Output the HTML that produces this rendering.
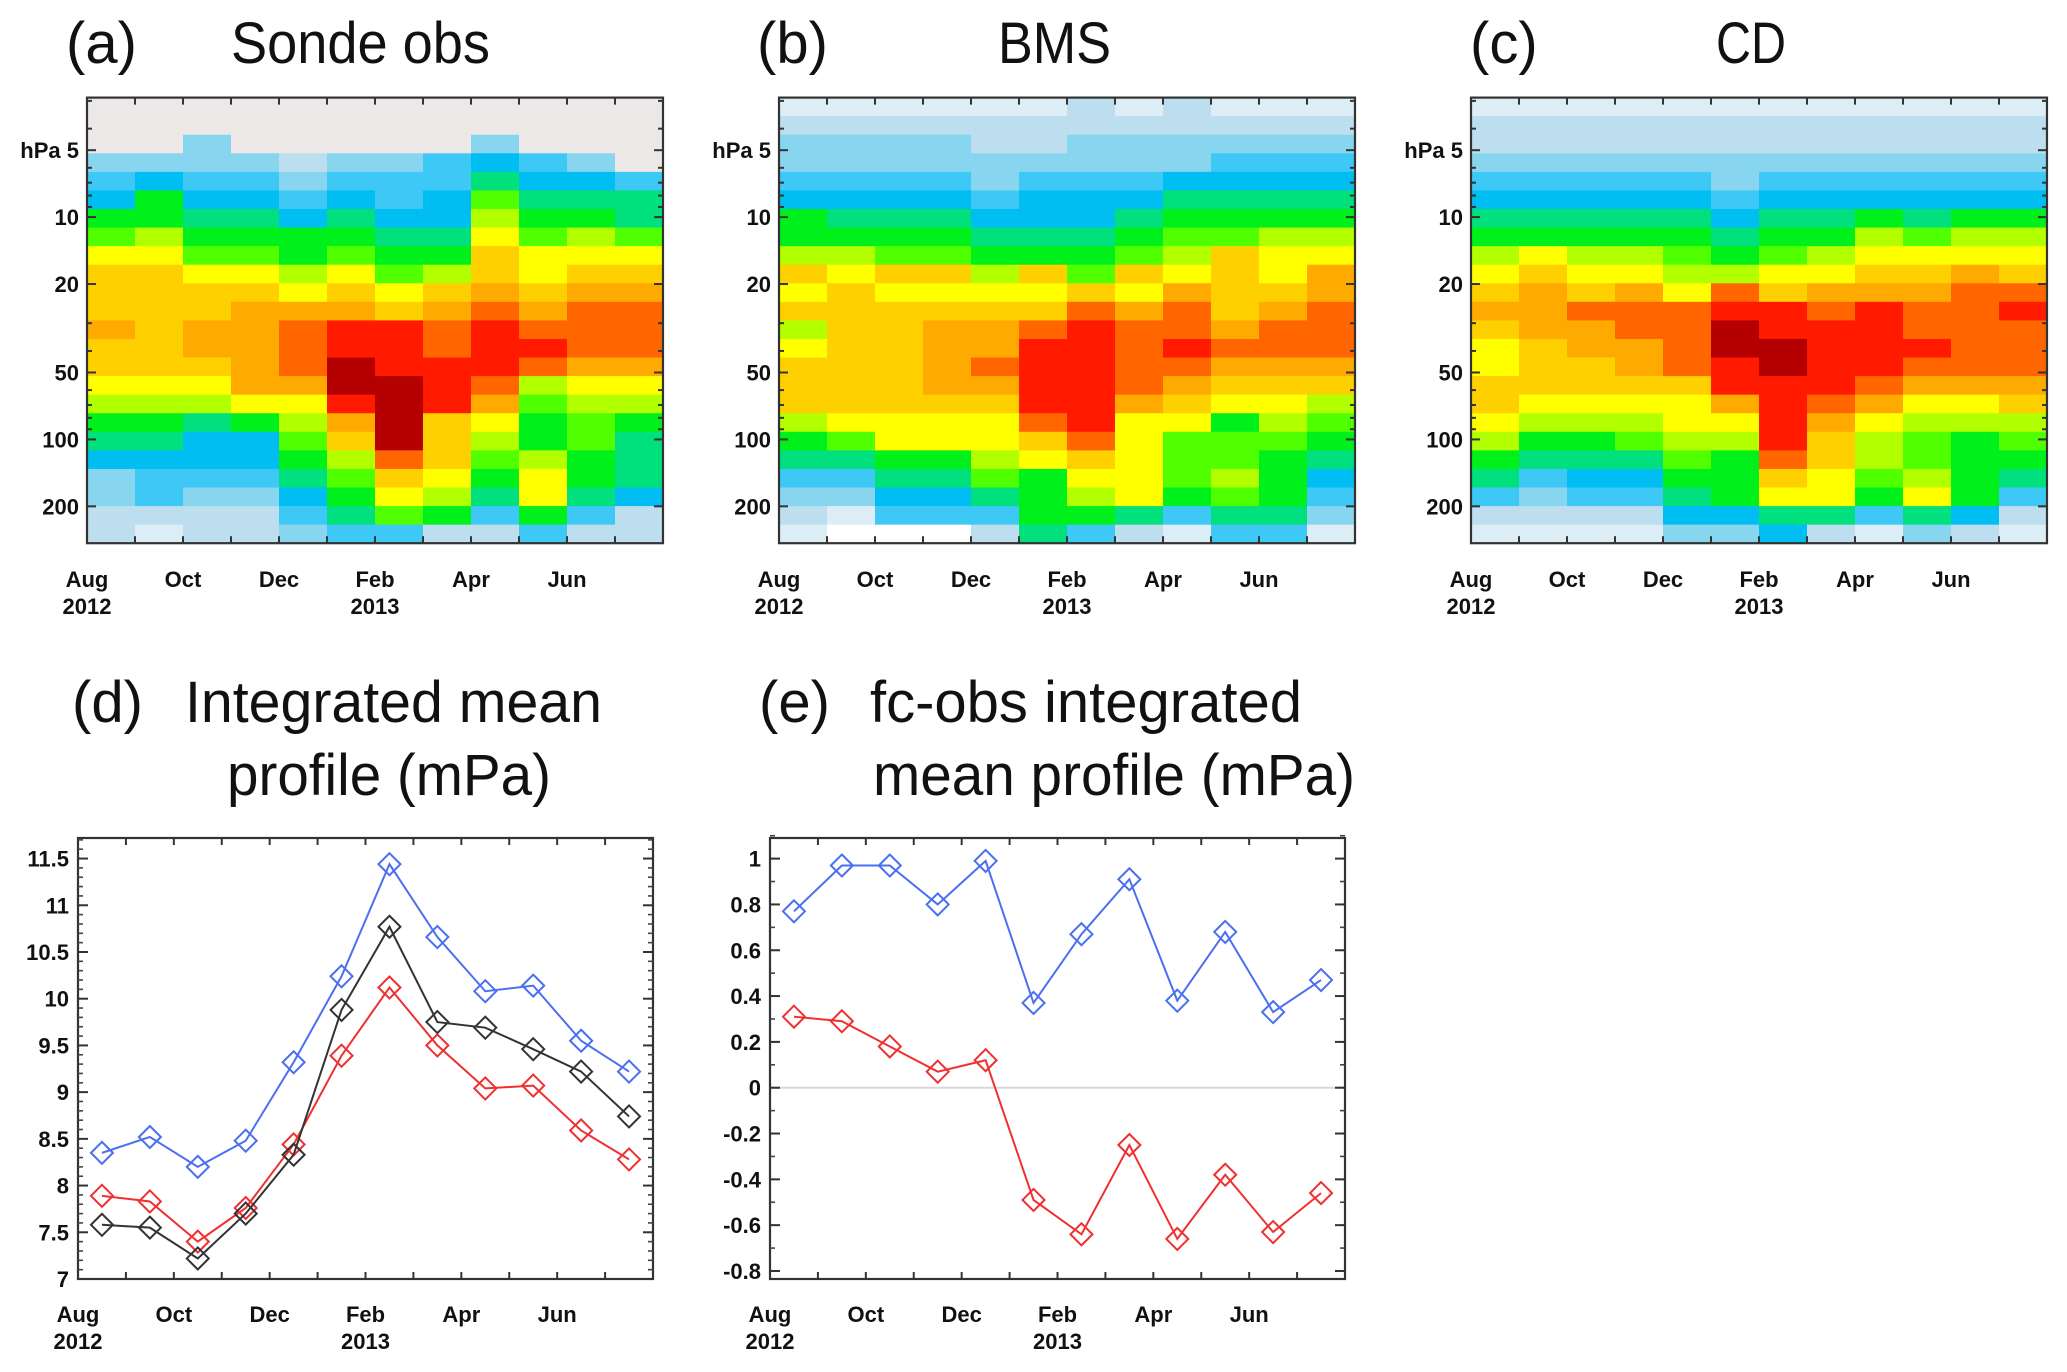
<!DOCTYPE html>
<html><head><meta charset="utf-8">
<style>
html,body{margin:0;padding:0;background:#fff;}
svg{display:block;}
text{font-family:"Liberation Sans",Arial,sans-serif;}
.tk{font-size:22px;font-weight:bold;fill:#111;}
.ttl{font-size:58px;fill:#111;}
</style></head>
<body>
<svg id="fig" width="2067" height="1372" viewBox="0 0 2067 1372" xmlns="http://www.w3.org/2000/svg">
<g id="titles">
<text class="ttl" x="66" y="63">(a)</text>
<text class="ttl" x="231" y="63" textLength="259" lengthAdjust="spacingAndGlyphs">Sonde obs</text>
<text class="ttl" x="757" y="63">(b)</text>
<text class="ttl" x="998" y="63" textLength="113" lengthAdjust="spacingAndGlyphs">BMS</text>
<text class="ttl" x="1470" y="63">(c)</text>
<text class="ttl" x="1716" y="63" textLength="70" lengthAdjust="spacingAndGlyphs">CD</text>
<text class="ttl" x="72" y="722">(d)</text>
<text class="ttl" x="185" y="722" textLength="417" lengthAdjust="spacingAndGlyphs">Integrated mean</text>
<text class="ttl" x="227" y="795" textLength="324" lengthAdjust="spacingAndGlyphs">profile (mPa)</text>
<text class="ttl" x="759" y="722">(e)</text>
<text class="ttl" x="870" y="722" textLength="432" lengthAdjust="spacingAndGlyphs">fc-obs integrated</text>
<text class="ttl" x="873" y="795" textLength="482" lengthAdjust="spacingAndGlyphs">mean profile (mPa)</text>
</g>
</svg>
<script>
// ---- data ----
const monthLabels = ["Aug","Oct","Dec","Feb","Apr","Jun"];
const monthTickIdx = [0,2,4,6,8,10];
const yearLabels = ["2012","2013"];
const yearTickIdx = [0,6];
const pressureTicks = [5,10,20,50,100,200];
const pressureTop = 2.9, pressureBottom = 293;
const nLevels = 24;
const colorScale = {"0":"#dcedf5","1":"#bcdeee","2":"#88d5ef","3":"#3ec8f5","4":"#00bdf2","5":"#00e07c","6":"#00f01c","7":"#50ff00","8":"#b2ff00","9":"#ffff00","a":"#ffd000","b":"#ffaa00","c":"#ff6600","d":"#ff1a00","e":"#b40000","g":"#ede8e8","w":"#ffffff"};
// each column: 24 colour-class levels, top to bottom
const sondeCols = [
"ggg234679aaabaa986542211",
"ggg246689aaaaaa986543310",
"gg22345679aabba985443211",
"ggg2345679abbbbb96443211",
"ggg12346689bcccb98765432",
"ggg2345679abddeedba87653",
"ggg23345679adddeeeeca973",
"ggg3344568abccdddaaa9861",
"gg245789aabcdddcb9876531",
"ggg3456799abcdc876689963",
"ggg245689abcccb987766531",
"gggg35579abcccb986555411"
];
const bmsCols = [
"012234668a9a89aaa8653210",
"0122345689aaaaaaa975320w",
"012234567a9aaaaaa996543w",
"012234567a9abbbba996543w",
"01122345689abbcba9987531",
"011234456a9acddddca96665",
"1122344567acddddddca9863",
"012234567a9bccccb9999951",
"1122456789bccdcba9777630",
"01234567aaaabcba96778753",
"0123456899abccba98766653",
"012345689bbcccba87654320"
];
const cdCols = [
"0112345689aba99aa9865310",
"011234569abbbaaa98653210",
"0112345689acbbaa98654310",
"0112345689bccbba98754310",
"01123456789cccca99876542",
"0112234568cdeeddb9866642",
"0112345679addeeddddca954",
"0112345689bcddddcbaa9951",
"011234689abddddcb9887630",
"011234579abccdcb98778952",
"011234689bcccccb98666641",
"011234689acdcccba8765310"
];
const lineMonths = [0,1,2,3,4,5,6,7,8,9,10,11];
const dBlue  = [8.35,8.52,8.20,8.48,9.32,10.24,11.44,10.66,10.08,10.14,9.55,9.22];
const dBlack = [7.58,7.55,7.22,7.70,8.33,9.88,10.77,9.75,9.69,9.46,9.22,8.74];
const dRed   = [7.89,7.83,7.40,7.76,8.44,9.39,10.12,9.50,9.04,9.07,8.59,8.28];
const dTicks = ["7","7.5","8","8.5","9","9.5","10","10.5","11","11.5"];
const eBlue = [0.77,0.97,0.97,0.80,0.99,0.37,0.67,0.91,0.38,0.68,0.33,0.47];
const eRed  = [0.31,0.29,0.18,0.07,0.12,-0.49,-0.64,-0.25,-0.66,-0.38,-0.63,-0.46];
const eTicks = ["-0.8","-0.6","-0.4","-0.2","0","0.2","0.4","0.6","0.8","1"];

// ---- drawing ----
const NS = "http://www.w3.org/2000/svg";
const svg = document.getElementById("fig");
function mk(tag, attrs, parent){ const e=document.createElementNS(NS,tag); for(const k in attrs) e.setAttribute(k,attrs[k]); (parent||svg).appendChild(e); return e; }
function fix(s){ s=s.replace(/\s/g,""); while(s.length<24) s+=s[s.length-1]; return s.slice(0,24); }

function timeAxis(g, x0, w, y0, h, labY){
  const mx = i => x0 + i*w/12;
  for(let i=1;i<12;i++){
    const t1=mk("line",{x1:mx(i),x2:mx(i),y1:y0+h,y2:y0+h-7,stroke:"#333","stroke-width":2},g);
    
    
    const t2=mk("line",{x1:mx(i),x2:mx(i),y1:y0,y2:y0+7,stroke:"#333","stroke-width":2},g);
    
    
  }
  monthLabels.forEach((m,k)=>{
    const t=mk("text",{x:mx(monthTickIdx[k]),y:labY,"text-anchor":"middle",class:"tk"},g);
    t.textContent=m;
    
    
  });
  yearLabels.forEach((yv,k)=>{
    const t=mk("text",{x:mx(yearTickIdx[k]),y:labY+27,"text-anchor":"middle",class:"tk"},g);
    t.textContent=yv;
    
    
  });
}

function heatPanel(name, cols, x0){
  const y0=97.6, w=576, h=445.6;
  const g=mk("g",{});
  
  
  const L0=Math.log10(pressureTop), L1=Math.log10(pressureBottom);
  const yp = p => y0 + (Math.log10(p)-L0)/(L1-L0)*h;
  const levelP = i => pressureTop*Math.pow(pressureBottom/pressureTop, i/nLevels);
  const cw = w/12;
  cols.forEach((cs,ci)=>{
    const s=fix(cs);
    for(let r=0;r<nLevels;r++){
      const ya=yp(levelP(r)), yb=yp(levelP(r+1));
      const rc=mk("rect",{x:x0+ci*cw,y:ya,width:cw+0.6,height:yb-ya+0.6,fill:colorScale[s[r]]},g);
      
      
    }
  });
  const fr=mk("rect",{x:x0,y:y0,width:w,height:h,fill:"none",stroke:"#333","stroke-width":2.2},g);
  
  
  [3,4,5,6,7,8,9,10,20,30,40,50,60,70,80,90,100,200].forEach(p=>{
    const major = pressureTicks.indexOf(p)>=0;
    const len = major?9:5;
    const a=mk("line",{x1:x0,x2:x0+len,y1:yp(p),y2:yp(p),stroke:"#333","stroke-width":2},g);
    
    
    const b=mk("line",{x1:x0+w,x2:x0+w-len,y1:yp(p),y2:yp(p),stroke:"#333","stroke-width":2},g);
    
    
  });
  pressureTicks.forEach(p=>{
    const t=mk("text",{x:x0-8,y:yp(p)+8,"text-anchor":"end",class:"tk"},g);
    t.textContent = p===5 ? "hPa 5" : String(p);
    
    
  });
  timeAxis(g,x0,w,y0,h,587);
}
heatPanel("sonde-obs", sondeCols, 87);
heatPanel("bms", bmsCols, 779);
heatPanel("cd", cdCols, 1471);

function linePanel(name, x0, vmin, vmax, ticks, series, minorStep, zeroLine){
  const y0=838, w=575, h=441;
  const g=mk("g",{});
  
  
  const xs = i => x0 + (i+0.5)*w/12;
  const ys = v => y0 + h - (v-vmin)/(vmax-vmin)*h;
  if(zeroLine){
    const z=mk("line",{x1:x0,x2:x0+w,y1:ys(0),y2:ys(0),stroke:"#d8d8d8","stroke-width":2},g);
    
    
  }
  const fr=mk("rect",{x:x0,y:y0,width:w,height:h,fill:"none",stroke:"#333","stroke-width":2.2},g);
  
  
  for(let v=vmin+1e-9; v<vmax; v+=minorStep){
    const vv=Math.round(v/minorStep)*minorStep;
    if(vv<vmin-1e-6) continue;
    const a=mk("line",{x1:x0,x2:x0+5,y1:ys(vv),y2:ys(vv),stroke:"#444","stroke-width":1.6},g);
    
    
    const b=mk("line",{x1:x0+w,x2:x0+w-5,y1:ys(vv),y2:ys(vv),stroke:"#444","stroke-width":1.6},g);
    
    
  }
  ticks.forEach(tl=>{
    const v=parseFloat(tl);
    const a=mk("line",{x1:x0,x2:x0+10,y1:ys(v),y2:ys(v),stroke:"#333","stroke-width":2},g);
    
    
    const b=mk("line",{x1:x0+w,x2:x0+w-10,y1:ys(v),y2:ys(v),stroke:"#333","stroke-width":2},g);
    
    
    const t=mk("text",{x:x0-9,y:ys(v)+8,"text-anchor":"end",class:"tk"},g);
    t.textContent=tl;
    
    
  });
  timeAxis(g,x0,w,y0,h,1322);
  series.forEach(sr=>{
    const pts = sr.vals.map((v,i)=>xs(lineMonths[i])+","+ys(v)).join(" ");
    const pl=mk("polyline",{points:pts,fill:"none",stroke:sr.color,"stroke-width":2},g);
    
    
    sr.vals.forEach((v,i)=>{
      const cx=xs(lineMonths[i]), cy=ys(v), r=11;
      const d=mk("polygon",{points:`${cx},${cy-r} ${cx+r},${cy} ${cx},${cy+r} ${cx-r},${cy}`,fill:"none",stroke:sr.color,"stroke-width":2},g);
      
      
    });
  });
}
linePanel("integrated-mean", 78, 7, 11.72, dTicks, [
  {name:"blue",color:"#4a6ff0",vals:dBlue},
  {name:"red",color:"#f03030",vals:dRed},
  {name:"black",color:"#333333",vals:dBlack}
], 0.1, false);
linePanel("fc-obs", 770, -0.835, 1.09, eTicks, [
  {name:"blue",color:"#4a6ff0",vals:eBlue},
  {name:"red",color:"#f03030",vals:eRed}
], 0.1, true);
</script>
</body></html>
